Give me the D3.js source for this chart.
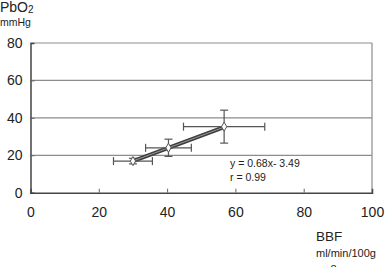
<!DOCTYPE html>
<html>
<head>
<meta charset="utf-8">
<script src="https://cdn.jsdelivr.net/npm/d3@7"></script>
<style>
  body { margin: 0; background: #fff; }
  svg { display: block; font-family: "Liberation Sans", Arial, sans-serif; }
</style>
</head>
<body>
<div id="chart"></div>
<script>
// ---- Data ----
const bbf = [30.0, 40.4, 56.7];
const pbo2 = [16.9, 24.0, 35.3];
const bbfErr = [5.7, 6.7, 11.9];
const pbo2Err = [1.5, 4.6, 8.8];
const xTicks = [0, 20, 40, 60, 80, 100];
const yTicks = [0, 20, 40, 60, 80];
const fitSlope = 0.68;
const fitIntercept = -3.49;

const W = 389, H = 267;
const svg = d3.select("#chart").append("svg").attr("width", W).attr("height", H);

const x = d3.scaleLinear().domain([0, 100]).range([30.5, 372]);
const y = d3.scaleLinear().domain([0, 80]).range([192.7, 43]);

// ---- Grid + frame ----
svg.selectAll(".grid")
  .data(yTicks.filter(d => d > 0))
  .join("line")
  .attr("x1", x(0)).attr("x2", x(100))
  .attr("y1", d => y(d)).attr("y2", d => y(d))
  .attr("stroke", "#8c8c8c").attr("stroke-width", 1.2);

svg.append("line")
  .attr("x1", x(100)).attr("x2", x(100)).attr("y1", y(80)).attr("y2", y(0))
  .attr("stroke", "#8c8c8c").attr("stroke-width", 1.2);

// ---- Axes ----
const xAxis = svg.append("g").attr("transform", `translate(0,${y(0)})`)
  .call(d3.axisBottom(x).tickValues(xTicks).tickSize(-4).tickPadding(14));
const yAxis = svg.append("g").attr("transform", `translate(${x(0)},0)`)
  .call(d3.axisLeft(y).tickValues(yTicks).tickSize(-4).tickPadding(8));

[xAxis, yAxis].forEach(a => {
  a.select(".domain").attr("stroke", "#444").attr("stroke-width", 1.5);
  a.selectAll(".tick line").attr("stroke", "#666");
  a.selectAll("text").attr("font-size", 14).attr("fill", "#222")
    .attr("font-family", "'Liberation Sans', Arial, sans-serif");
});
yAxis.selectAll(".tick").filter(d => d === 0 || d === 80).select("line").remove();
xAxis.selectAll(".tick").filter(d => d === 0 || d === 100).select("line").remove();

// ---- Regression line (fit from first to last point) ----
const fitX = d3.extent(bbf);
const fitLine = fitX.map(v => [x(v), y(fitSlope * v + fitIntercept)]);
svg.append("path").attr("d", d3.line()(fitLine))
  .attr("stroke", "#3f3f3f").attr("stroke-width", 4).attr("fill", "none");
svg.append("path").attr("d", d3.line()(fitLine))
  .attr("stroke", "#9a9a9a").attr("stroke-width", 1).attr("fill", "none");

// ---- Error bars ----
const pts = bbf.map((v, i) => ({ x: v, y: pbo2[i], ex: bbfErr[i], ey: pbo2Err[i] }));
const eb = svg.append("g").attr("stroke", "#555").attr("stroke-width", 1.2);
pts.forEach(p => {
  eb.append("line").attr("x1", x(p.x - p.ex)).attr("x2", x(p.x + p.ex))
    .attr("y1", y(p.y)).attr("y2", y(p.y));
  eb.append("line").attr("x1", x(p.x)).attr("x2", x(p.x))
    .attr("y1", y(p.y - p.ey)).attr("y2", y(p.y + p.ey));
  [p.x - p.ex, p.x + p.ex].forEach(v => eb.append("line")
    .attr("x1", x(v)).attr("x2", x(v)).attr("y1", y(p.y) - 4).attr("y2", y(p.y) + 4));
  [p.y - p.ey, p.y + p.ey].forEach(v => eb.append("line")
    .attr("x1", x(p.x) - 4).attr("x2", x(p.x) + 4).attr("y1", y(v)).attr("y2", y(v)));
});

// ---- Markers (small diamonds) ----
svg.selectAll(".pt")
  .data(pts)
  .join("path")
  .attr("d", d3.symbol(d3.symbolDiamond, 24))
  .attr("transform", d => `translate(${x(d.x)},${y(d.y)})`)
  .attr("fill", "#fff").attr("stroke", "#555").attr("stroke-width", 1);

// ---- Labels ----
const pb = svg.append("text").attr("x", 0).attr("y", 12).attr("font-size", 14).attr("fill", "#222");
pb.append("tspan").text("PbO");
pb.append("tspan").text("2").attr("font-size", 10).attr("dy", 1);
svg.append("text").attr("x", 0).attr("y", 26).attr("font-size", 10.5).attr("fill", "#222").text("mmHg");

svg.append("text").attr("x", 316).attr("y", 241).attr("font-size", 13.5).attr("fill", "#222").text("BBF");
svg.append("text").attr("x", 316).attr("y", 257).attr("font-size", 11).attr("fill", "#222").text("ml/min/100g");
svg.append("text").attr("x", 318).attr("y", 273).attr("font-size", 11).attr("fill", "#222").text("n=8");

svg.append("text").attr("x", 230).attr("y", 167).attr("font-size", 10.5).attr("fill", "#222")
  .text(`y = ${fitSlope}x- ${Math.abs(fitIntercept)}`);
svg.append("text").attr("x", 230).attr("y", 181).attr("font-size", 10.5).attr("fill", "#222")
  .text("r = 0.99");
</script>
</body>
</html>
